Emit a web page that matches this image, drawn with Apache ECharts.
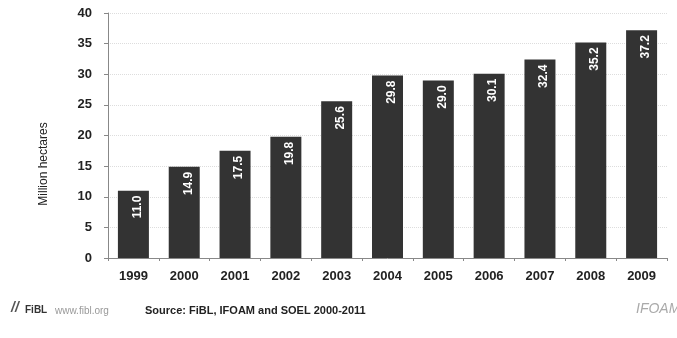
<!DOCTYPE html>
<html>
<head>
<meta charset="utf-8">
<script src="https://cdn.jsdelivr.net/npm/echarts@6/dist/echarts.min.js"></script>
<style>
    html, body { margin: 0; padding: 0; background: #fff; }
    #chart { width: 677px; height: 338px; }
</style>
</head>
<body>
<div id="chart"></div>
<script>
// 年份（x轴）
var years  = ['1999','2000','2001','2002','2003','2004','2005','2006','2007','2008','2009'];
// 有机农业面积（百万公顷）
var areas  = [11.0, 14.9, 17.5, 19.8, 25.6, 29.8, 29.0, 30.1, 32.4, 35.2, 37.2];
// y轴刻度
var yTicks = [0, 5, 10, 15, 20, 25, 30, 35, 40];

var myChart = echarts.init(document.getElementById('chart'));
var option = {
    animation: false,
    backgroundColor: '#fff',
    grid: { left: 108, right: 10, top: 13, bottom: 80, containLabel: false },
    xAxis: {
        type: 'category',
        data: years,
        axisLine: { lineStyle: { color: '#888', width: 1 } },
        axisTick: { show: true, alignWithLabel: false, length: 3, lineStyle: { color: '#888' } },
        axisLabel: { color: '#222', fontFamily: 'Liberation Sans', fontWeight: 'bold', fontSize: 13, margin: 12 }
    },
    yAxis: {
        type: 'value',
        min: yTicks[0],
        max: yTicks[yTicks.length - 1],
        interval: 5,
        axisLine: { show: true, lineStyle: { color: '#888', width: 1 } },
        axisTick: { show: true, length: 4, lineStyle: { color: '#888' } },
        axisLabel: { color: '#222', fontFamily: 'Liberation Sans', fontWeight: 'bold', fontSize: 13, margin: 16 },
        splitLine: { show: true, lineStyle: { color: '#ddd', type: 'dotted' } }
    },
    series: [{
        type: 'bar',
        data: areas,
        barWidth: '61%',
        itemStyle: { color: '#333333' },
        label: {
            show: true,
            position: 'insideTop',
            rotate: 90,
            align: 'right',
            verticalAlign: 'middle',
            offset: [0, 4],
            color: '#fff',
            fontFamily: 'Liberation Sans',
            fontWeight: 'bold',
            fontSize: 12,
            formatter: function (p) { return p.value.toFixed(1); }
        }
    }],
    graphic: [
        // y轴标题（原图偏下）
        { type: 'text', x: 44, y: 164, rotation: Math.PI / 2,
          style: { text: 'Million hectares', fill: '#222', font: '12px Liberation Sans', align: 'center', verticalAlign: 'middle' } },
        // 页脚
        { type: 'text', left: 11, top: 301, style: { text: '//', fill: '#555', font: 'italic bold 14px Liberation Sans' } },
        { type: 'text', left: 25, top: 305, style: { text: 'FiBL', fill: '#333', font: 'bold 10px Liberation Sans' } },
        { type: 'text', left: 55, top: 306, style: { text: 'www.fibl.org', fill: '#999', font: '10px Liberation Sans' } },
        { type: 'text', left: 145, top: 305, style: { text: 'Source: FiBL, IFOAM and SOEL 2000-2011', fill: '#222', font: 'bold 11px Liberation Sans' } },
        { type: 'text', left: 636, top: 302, style: { text: 'IFOAM', fill: '#aaa', font: 'italic 14px Liberation Sans' } }
    ]
};
myChart.setOption(option);
</script>
</body>
</html>
